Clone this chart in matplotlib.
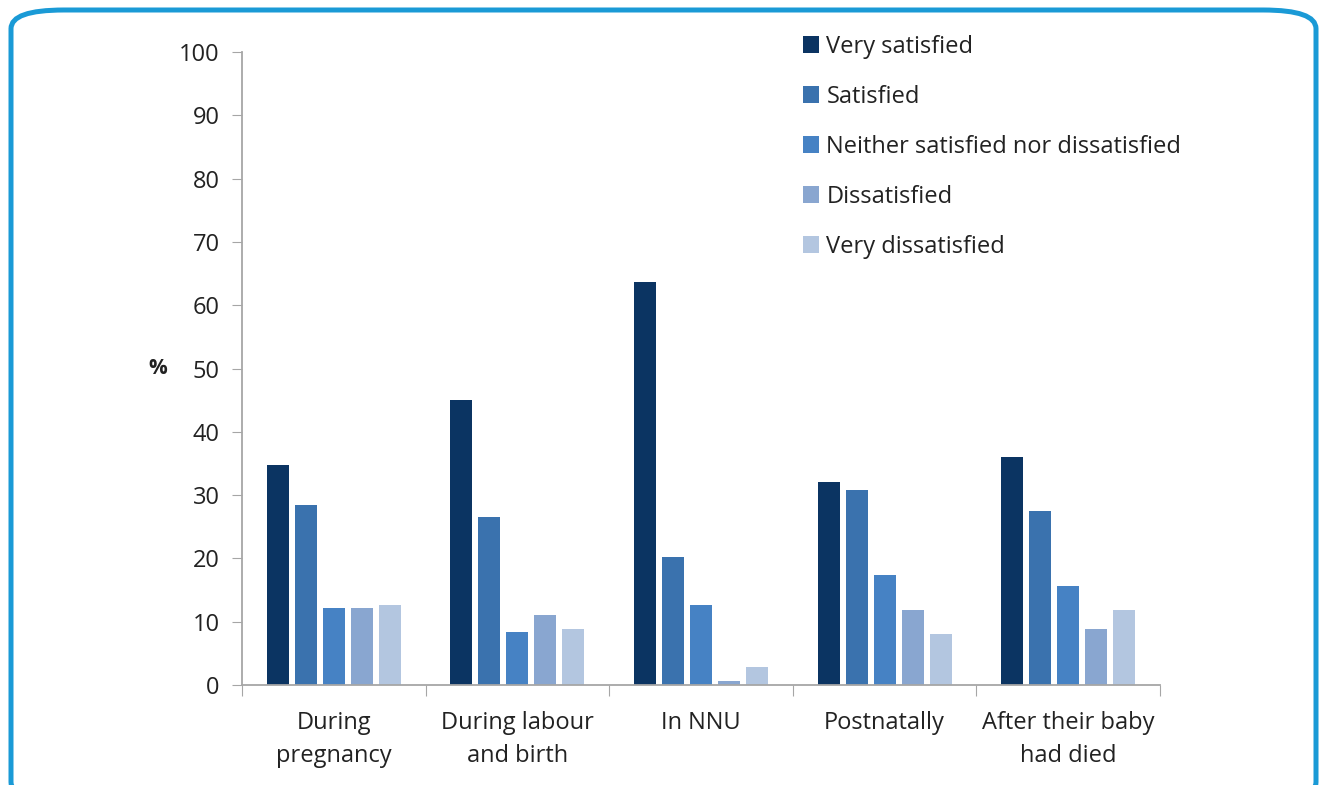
import numpy as np
import matplotlib
matplotlib.use("Agg")
import matplotlib.pyplot as plt
from matplotlib.patches import FancyBboxPatch, Patch

categories = ["During\npregnancy", "During labour\nand birth", "In NNU",
              "Postnatally", "After their baby\nhad died"]
series = ["Very satisfied", "Satisfied", "Neither satisfied nor dissatisfied",
          "Dissatisfied", "Very dissatisfied"]
very_satisfied = [34.7, 45.1, 63.6, 32.1, 36.0]
satisfied = [28.5, 26.6, 20.3, 30.8, 27.5]
neither = [12.1, 8.4, 12.6, 17.3, 15.7]
dissatisfied = [12.1, 11.0, 0.7, 11.8, 8.9]
very_dissatisfied = [12.6, 8.9, 2.8, 8.0, 11.9]
y_ticks = list(range(0, 101, 10))

colors = ["#0b3462", "#3a72ae", "#4682c4", "#89a6d0", "#b3c6e0"]
values = [very_satisfied, satisfied, neither, dissatisfied, very_dissatisfied]

plt.rcParams["font.family"] = ["Open Sans", "DejaVu Sans"]
text_col = "#222222"
axis_col = "#a6a6a6"

fig = plt.figure(figsize=(13.22, 7.85), dpi=100)

# rounded blue frame, bottom edge runs off the picture
frame = FancyBboxPatch((11 / 1322, -0.02), 1305 / 1322, 1 - 10 / 785 + 0.02,
                       boxstyle="round,pad=0,rounding_size=0.04",
                       transform=fig.transFigure, fill=False,
                       edgecolor="#1a9ad6", linewidth=3.6, mutation_aspect=785 / 1322)
fig.patches.append(frame)

ax = fig.add_axes([242 / 1322, 100 / 785, 918 / 1322, 633 / 785])

x = np.arange(len(categories))
step = 0.1525
width = 0.12
for i, (vals, col, name) in enumerate(zip(values, colors, series)):
    ax.bar(x + (i - 2) * step, vals, width=width, color=col, label=name)

ax.set_xlim(-0.5, len(categories) - 0.5)
ax.set_ylim(0, 100)
ax.set_yticks(y_ticks)
ax.tick_params(axis="y", direction="out", length=7, color=axis_col,
               labelsize=17, labelcolor=text_col, pad=9)

ax.set_xticks(np.arange(len(categories) + 1) - 0.5)
ax.set_xticklabels([])
ax.tick_params(axis="x", which="major", direction="out", length=8, color=axis_col)
ax.set_xticks(x, minor=True)
ax.set_xticklabels(categories, minor=True, fontsize=17, color=text_col, linespacing=1.5)
ax.tick_params(axis="x", which="minor", length=0, pad=19)

for s in ["top", "right"]:
    ax.spines[s].set_visible(False)
for s in ["left", "bottom"]:
    ax.spines[s].set_color(axis_col)
    ax.spines[s].set_linewidth(1.3)

fig.text(158 / 1322, 1 - 369 / 785, "%", fontsize=15, fontweight="bold",
         color=text_col, ha="center", va="center")

handles = [Patch(facecolor=c, edgecolor="none") for c in colors]
ax.legend(handles, series, loc="upper left", bbox_to_anchor=(791 / 1322, 1 - 23 / 785),
          bbox_transform=fig.transFigure, frameon=False, fontsize=17,
          handlelength=0.7, handleheight=0.7, handletextpad=0.3,
          labelspacing=1.1, labelcolor=text_col, borderpad=0)

fig.savefig("out.png", dpi=100)
